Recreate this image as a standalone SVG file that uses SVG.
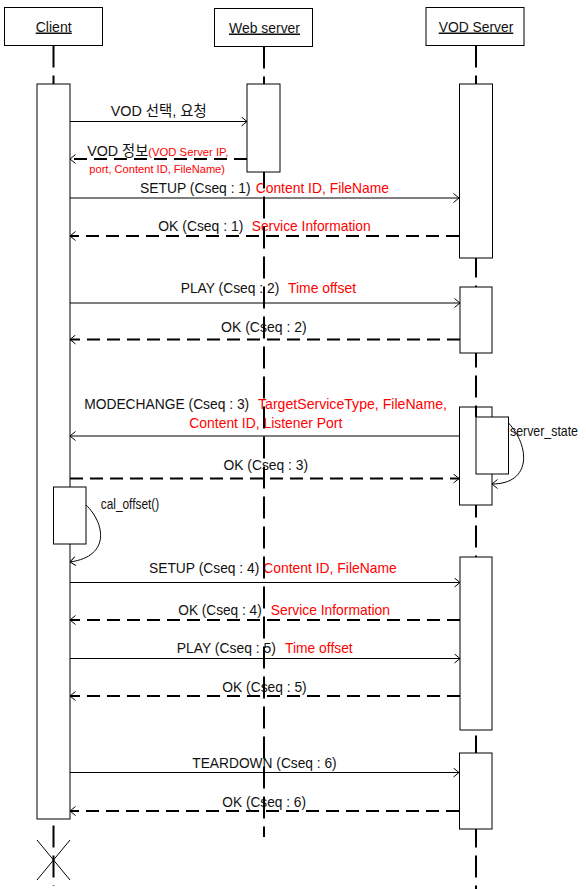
<svg xmlns="http://www.w3.org/2000/svg" width="586" height="889" viewBox="0 0 586 889">
<style>
text{font-family:"Liberation Sans","Noto Sans CJK KR",Arial,sans-serif;font-size:15px;fill:#111}
.r{fill:#ff0000}
.sm{font-size:11.5px}
.hd{text-decoration:underline}
.box{fill:#fff;stroke:#000;stroke-width:1}
.life{stroke:#000;stroke-width:2;stroke-dasharray:22 8;fill:none}
.msg{stroke:#000;stroke-width:1;fill:none;marker-end:url(#ah)}
.ret{stroke:#000;stroke-width:2;stroke-dasharray:13 7;fill:none;marker-end:url(#ah)}
.self{stroke:#000;stroke-width:1;fill:none;marker-end:url(#ah)}
</style>
<defs>
<marker id="ah" markerUnits="userSpaceOnUse" viewBox="0 0 10 10" markerWidth="10" markerHeight="10" refX="7" refY="5" orient="auto">
<path d="M1.5,0.5 L7,5 L1.5,9.5" fill="none" stroke="#000" stroke-width="1" stroke-dasharray="none"/>
</marker>
</defs>
<rect width="586" height="889" fill="#fff"/>

<g id="connectors">
<line class="msg" x1="70" y1="121.5" x2="247" y2="121.5"/>
<text x="110.7" y="116" textLength="96" lengthAdjust="spacingAndGlyphs">VOD 선택, 요청</text>

<line class="ret" x1="247" y1="159" x2="70" y2="159"/>
<text x="87.3" y="156" textLength="61" lengthAdjust="spacingAndGlyphs">VOD 정보</text>
<text class="r sm" x="148.3" y="156" textLength="80" lengthAdjust="spacingAndGlyphs">(VOD Server IP,</text>
<text class="r sm" x="89.3" y="173.3" textLength="135.7" lengthAdjust="spacingAndGlyphs">port, Content ID, FileName)</text>

<line class="msg" x1="70" y1="198" x2="459" y2="198"/>
<text x="140" y="192.5" textLength="110.7" lengthAdjust="spacingAndGlyphs">SETUP (Cseq : 1)</text>
<text class="r" x="255.7" y="192.5" textLength="133.3" lengthAdjust="spacingAndGlyphs">Content ID, FileName</text>

<line class="ret" x1="459" y1="236" x2="70" y2="236"/>
<text x="158.3" y="231" textLength="85" lengthAdjust="spacingAndGlyphs">OK (Cseq : 1)</text>
<text class="r" x="251.7" y="231" textLength="119" lengthAdjust="spacingAndGlyphs">Service Information</text>

<line class="msg" x1="70" y1="303" x2="460" y2="303"/>
<text x="180.7" y="292.7" textLength="98.6" lengthAdjust="spacingAndGlyphs">PLAY (Cseq : 2)</text>
<text class="r" x="288" y="292.7" textLength="68" lengthAdjust="spacingAndGlyphs">Time offset</text>

<line class="ret" x1="460" y1="339.5" x2="70" y2="339.5"/>
<text x="221" y="331.7" textLength="85.7" lengthAdjust="spacingAndGlyphs">OK (Cseq : 2)</text>

<line class="msg" x1="459" y1="436" x2="70" y2="436"/>
<text x="84.2" y="409" textLength="165" lengthAdjust="spacingAndGlyphs">MODECHANGE (Cseq : 3)</text>
<text class="r" x="258" y="409" textLength="189" lengthAdjust="spacingAndGlyphs">TargetServiceType, FileName,</text>
<text class="r" x="189.3" y="428" textLength="153" lengthAdjust="spacingAndGlyphs">Content ID, Listener Port</text>

<line class="ret" x1="70" y1="478.5" x2="459" y2="478.5"/>
<text x="223.5" y="469.5" textLength="84.5" lengthAdjust="spacingAndGlyphs">OK (Cseq : 3)</text>

<path class="self" d="M86,505 C104,522 112,556 70,562"/>
<text x="100.7" y="509" textLength="58.6" lengthAdjust="spacingAndGlyphs">cal_offset()</text>

<path class="self" d="M508.5,423 C530,446 532,484 492,484"/>
<text x="510" y="436" font-size="12.5" textLength="68" lengthAdjust="spacingAndGlyphs">server_state</text>

<line class="msg" x1="70" y1="582.5" x2="460" y2="582.5"/>
<text x="149" y="573.3" textLength="110.3" lengthAdjust="spacingAndGlyphs">SETUP (Cseq : 4)</text>
<text class="r" x="263.3" y="573.3" textLength="133.4" lengthAdjust="spacingAndGlyphs">Content ID, FileName</text>

<line class="ret" x1="460" y1="620" x2="70" y2="620"/>
<text x="178.3" y="615" textLength="83.4" lengthAdjust="spacingAndGlyphs">OK (Cseq : 4)</text>
<text class="r" x="270.7" y="615" textLength="119.3" lengthAdjust="spacingAndGlyphs">Service Information</text>

<line class="msg" x1="70" y1="658.5" x2="460" y2="658.5"/>
<text x="176.7" y="653.3" textLength="99.3" lengthAdjust="spacingAndGlyphs">PLAY (Cseq : 5)</text>
<text class="r" x="285" y="653.3" textLength="67.7" lengthAdjust="spacingAndGlyphs">Time offset</text>

<line class="ret" x1="460" y1="696" x2="70" y2="696"/>
<text x="222.3" y="691.5" textLength="84.4" lengthAdjust="spacingAndGlyphs">OK (Cseq : 5)</text>

<line class="msg" x1="70" y1="772.5" x2="459" y2="772.5"/>
<text x="192.3" y="768" textLength="144.4" lengthAdjust="spacingAndGlyphs">TEARDOWN (Cseq : 6)</text>

<line class="ret" x1="459" y1="811" x2="70" y2="811"/>
<text x="222.3" y="806.5" textLength="83.7" lengthAdjust="spacingAndGlyphs">OK (Cseq : 6)</text>
</g>

<g id="client">
<rect class="box" x="4.5" y="7.5" width="98" height="38"/>
<text class="hd" x="35.7" y="31.5" textLength="36" lengthAdjust="spacingAndGlyphs">Client</text>
<line class="life" x1="53.5" y1="45.5" x2="53.5" y2="886"/>
<rect class="box" x="37" y="84" width="33" height="735"/>
<rect class="box" x="53.5" y="487" width="32.5" height="57"/>
<path d="M37,840 L70,880 M70,840 L37,880" stroke="#000" stroke-width="1" fill="none"/>
</g>

<g id="web-server">
<rect class="box" x="214.5" y="8.5" width="98" height="38"/>
<text class="hd" x="229" y="32.5" textLength="71" lengthAdjust="spacingAndGlyphs">Web server</text>
<line class="life" x1="264" y1="46.5" x2="264" y2="837"/>
<rect class="box" x="247" y="84" width="33" height="88"/>
</g>

<g id="vod-server">
<rect class="box" x="426" y="7.5" width="98" height="38"/>
<text class="hd" x="438.7" y="31.5" textLength="74.6" lengthAdjust="spacingAndGlyphs">VOD Server</text>
<line class="life" x1="476" y1="45.5" x2="476" y2="889"/>
<rect class="box" x="459.5" y="84" width="33" height="174"/>
<rect class="box" x="460" y="287" width="32" height="66"/>
<rect class="box" x="459.5" y="407" width="32.5" height="98"/>
<line x1="476" y1="407" x2="476" y2="417" stroke="#000" stroke-width="2"/>
<rect class="box" x="476" y="417" width="32.5" height="57"/>
<rect class="box" x="460" y="557" width="32" height="173"/>
<rect class="box" x="459.5" y="753" width="32.5" height="76"/>
</g>
</svg>
